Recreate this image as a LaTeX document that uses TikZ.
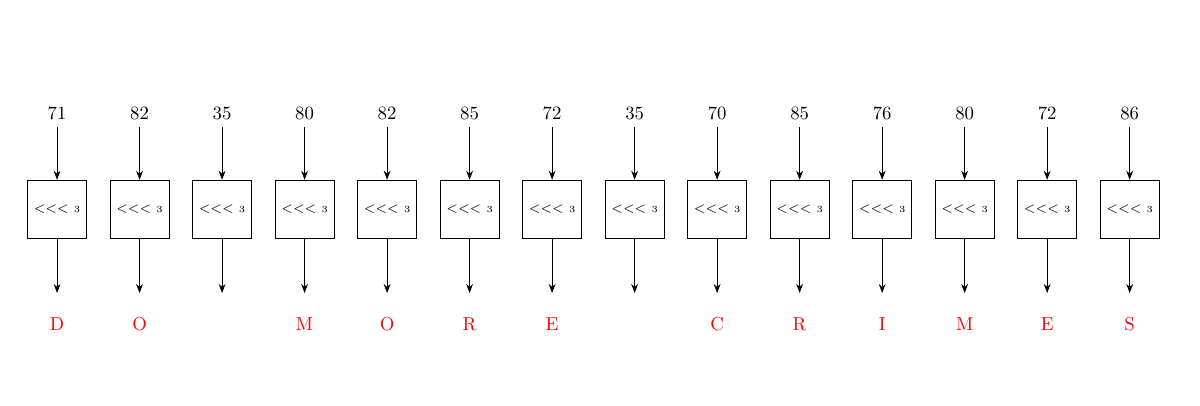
\documentclass[tikz,border=0pt]{standalone}
\usepackage{tikz}
\usetikzlibrary{arrows.meta,positioning}

\begin{document}
\begin{tikzpicture}[>=Stealth,
  rotbox/.style={draw,minimum size=1.1cm,inner sep=0pt},
  codeval/.style={anchor=base},
  plainchar/.style={anchor=base,text=red}]

\useasboundingbox (0,0) rectangle (22.5,7.594);

% --- one rotate cell per input byte ---
\foreach \i/\v/\c in {
    1/71/D, 2/82/O, 3/35/{}, 4/80/M, 5/82/O, 6/85/R, 7/72/E,
    8/35/{}, 9/70/C, 10/85/R, 11/76/I, 12/80/M, 13/72/E, 14/86/S}
{
  \pgfmathsetmacro\x{1.07+1.547*(\i-1)}
  \node[codeval] (t\i) at (\x,5.344) {\v};
  \node[rotbox] (b\i) at (\x,3.666) {\scriptsize$<<<$ {\tiny 3}};
  \coordinate (e\i) at (\x,2.10);
  \node[plainchar] (l\i) at (\x,1.388) {\c};
  \draw[->] (t\i.south) -- (b\i.north);
  \draw[->] (b\i.south) -- (e\i);
}

\end{tikzpicture}
\end{document}
